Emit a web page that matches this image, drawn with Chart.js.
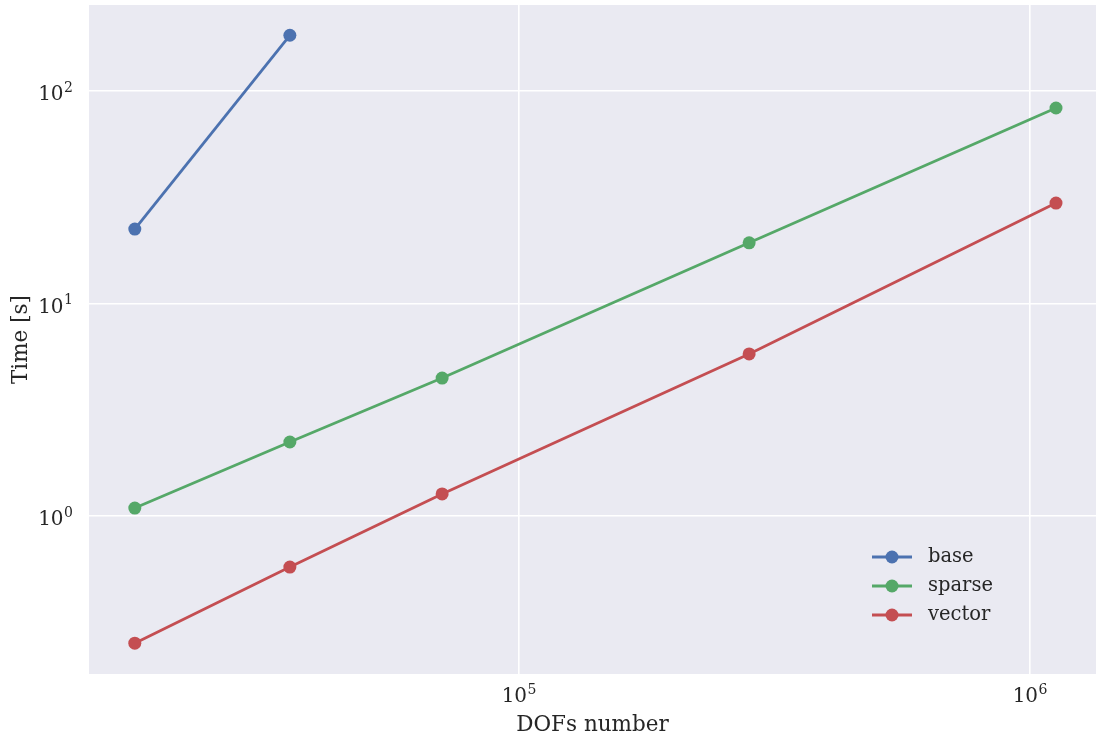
<!DOCTYPE html>
<html>
<head>
<meta charset="utf-8">
<script src="https://cdn.jsdelivr.net/npm/chart.js@4.4.1/dist/chart.umd.min.js"></script>
<style>
  html, body { margin: 0; padding: 0; background: #ffffff; }
  #wrap { width: 1096px; height: 740px; }
</style>
</head>
<body>
<div id="wrap"><canvas id="c" width="1096" height="740"></canvas></div>
<script>
// Problem sizes (degrees of freedom) for each run
const dofs = [17700, 35600, 70700, 282000, 1124000];

// Wall-clock times in seconds per solver variant
const baseTimes   = [22.4, 183];
const sparseTimes = [1.09, 2.23, 4.46, 19.3, 83.2];
const vectorTimes = [0.252, 0.575, 1.27, 5.79, 29.7];

const seriesNames = ['base', 'sparse', 'vector'];

// Decade ticks on each log axis
const xTickValues = [1e5, 1e6];
const yTickValues = [1e0, 1e1, 1e2];

const colors = ['#4C72B0', '#55A868', '#C44E52'];
const serif = "'DejaVu Serif', 'Liberation Serif', serif";
const textColor = '#262626';

function pairs(xs, ys) {
  return ys.map((y, i) => ({ x: xs[i], y: y }));
}

const datasets = [baseTimes, sparseTimes, vectorTimes].map((ys, i) => ({
  label: seriesNames[i],
  data: pairs(dofs, ys),
  borderColor: colors[i],
  backgroundColor: colors[i],
  borderWidth: 2.8,
  pointRadius: 6.5,
  pointHoverRadius: 6.5,
  pointBorderWidth: 0,
  pointBackgroundColor: colors[i],
  tension: 0,
  fill: false
}));

// Grey plotting panel behind the grid
const panelBg = {
  id: 'panelBg',
  beforeDraw(chart) {
    const { ctx, chartArea: a } = chart;
    ctx.save();
    ctx.fillStyle = '#EAEAF2';
    ctx.fillRect(a.left, a.top, a.right - a.left, a.bottom - a.top);
    ctx.restore();
  }
};

// Draws "10" with a raised exponent; align is 'right' or 'center'
function drawPower(ctx, value, x, baseline, align) {
  const exp = String(Math.round(Math.log10(value)));
  ctx.font = '20px ' + serif;
  const wBase = ctx.measureText('10').width;
  ctx.font = '14px ' + serif;
  const wExp = ctx.measureText(exp).width;
  const total = wBase + 0.5 + wExp;
  const left = align === 'right' ? x - total : x - total / 2;
  ctx.textAlign = 'left';
  ctx.textBaseline = 'alphabetic';
  ctx.font = '20px ' + serif;
  ctx.fillText('10', left, baseline);
  ctx.font = '14px ' + serif;
  ctx.fillText(exp, left + wBase + 0.5, baseline - 8.4);
}

// Decade labels for both log axes
const powerTicks = {
  id: 'powerTicks',
  afterDraw(chart) {
    const { ctx, chartArea: a } = chart;
    const xs = chart.scales.x, ys = chart.scales.y;
    ctx.save();
    ctx.fillStyle = textColor;
    xTickValues.forEach(v => {
      drawPower(ctx, v, xs.getPixelForValue(v), a.bottom + 28, 'center');
    });
    yTickValues.forEach(v => {
      drawPower(ctx, v, a.left - 16, ys.getPixelForValue(v) + 9, 'right');
    });
    ctx.restore();
  }
};

// Legend in the lower-right corner: line with a marker, then the name
const lineLegend = {
  id: 'lineLegend',
  afterDatasetsDraw(chart) {
    const { ctx } = chart;
    const x0 = 872, x1 = 912, tx = 928;
    const y0 = 557, dy = 29;
    ctx.save();
    ctx.font = '19.5px ' + serif;
    ctx.textBaseline = 'middle';
    ctx.textAlign = 'left';
    chart.data.datasets.forEach((ds, i) => {
      const y = y0 + i * dy;
      ctx.strokeStyle = ds.borderColor;
      ctx.lineWidth = 2.8;
      ctx.beginPath();
      ctx.moveTo(x0, y);
      ctx.lineTo(x1, y);
      ctx.stroke();
      ctx.fillStyle = ds.borderColor;
      ctx.beginPath();
      ctx.arc((x0 + x1) / 2, y, 6.5, 0, Math.PI * 2);
      ctx.fill();
      ctx.fillStyle = textColor;
      ctx.fillText(ds.label, tx, y);
    });
    ctx.restore();
  }
};

new Chart(document.getElementById('c'), {
  type: 'line',
  data: { datasets },
  plugins: [panelBg, lineLegend, powerTicks],
  options: {
    responsive: false,
    animation: false,
    events: [],
    layout: { autoPadding: false, padding: { top: 5, right: 0, left: 0, bottom: 0 } },
    plugins: {
      legend: { display: false },
      tooltip: { enabled: false }
    },
    scales: {
      x: {
        type: 'logarithmic',
        min: 14400,
        max: 1346000,
        afterBuildTicks(scale) { scale.ticks = xTickValues.map(v => ({ value: v })); },
        afterFit(scale) {
          scale.height = 66;
          scale.paddingLeft = 0;
          scale.paddingRight = 0;
        },
        ticks: { display: false, autoSkip: false },
        grid: { color: '#ffffff', lineWidth: 1.6, drawTicks: false },
        border: { display: false },
        title: {
          display: true,
          text: 'DOFs number',
          font: { family: serif, size: 21.5 },
          color: textColor,
          padding: { top: 0, bottom: 2 }
        }
      },
      y: {
        type: 'logarithmic',
        min: 0.1805,
        max: 254,
        afterBuildTicks(scale) { scale.ticks = yTickValues.map(v => ({ value: v })); },
        afterFit(scale) {
          scale.width = 89;
          scale.paddingTop = 0;
          scale.paddingBottom = 0;
        },
        ticks: { display: false, autoSkip: false },
        grid: { color: '#ffffff', lineWidth: 1.6, drawTicks: false },
        border: { display: false },
        title: {
          display: true,
          text: 'Time [s]',
          font: { family: serif, size: 21.5 },
          color: textColor,
          padding: { top: 9, bottom: 0 }
        }
      }
    }
  }
});
</script>
</body>
</html>
